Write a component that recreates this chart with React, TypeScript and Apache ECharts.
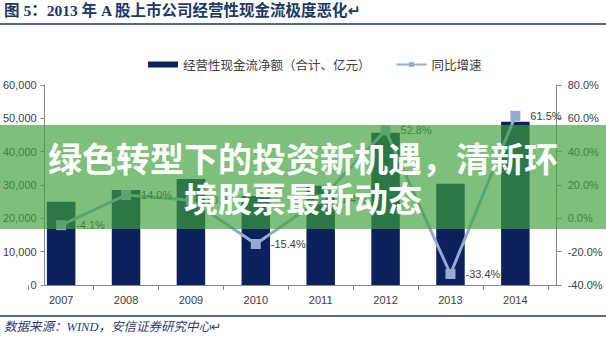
import React, { useEffect, useRef } from "react";
import * as echarts from "echarts";

const titleText = "图 5：2013 年 A 股上市公司经营性现金流极度恶化↵";
const sourceText = "数据来源：WIND，安信证券研究中心↵";
const overlayText = "绿色转型下的投资新机遇，清新环境股票最新动态";

const years = ["2007", "2008", "2009", "2010", "2011", "2012", "2013", "2014"];
const cashFlow = [25000, 28500, 31800, 26700, 29800, 45700, 30400, 49000];
const growth = [-4.1, 14.0, 10.9, -15.4, 11.4, 52.8, -33.4, 61.5];

const barName = "经营性现金流净额（合计、亿元）";
const lineName = "同比增速";

const leftMin = 0;
const leftMax = 60000;
const leftStep = 10000;
const rightMin = -40;
const rightMax = 80;
const rightStep = 20;

const NAVY = "#0C215C";
const LINE = "#95A9D3";
const AXIS = "#868686";
const LABEL = "#404040";
const SANS = "'Liberation Sans', Arial, sans-serif";
const CJK = "'Noto Sans CJK SC', 'DejaVu Sans', sans-serif";
const SERIF = "'Liberation Serif', 'Noto Sans CJK SC', 'DejaVu Sans', serif";

export default function App() {
  const ref = useRef<HTMLDivElement>(null);

  useEffect(() => {
    if (!ref.current) return;
    const chart = echarts.init(ref.current, undefined, { renderer: "svg" });

    const axisGrid = { left: 43.3, right: 49.3, top: 85, bottom: 69 };
    const dataGrid = { left: 28.7, right: 58.2, top: 85, bottom: 69 };

    const option: any = {
      animation: false,
      backgroundColor: "#ffffff",
      grid: [axisGrid, dataGrid],
      legend: {
        left: 143,
        top: 52,
        itemWidth: 30,
        itemHeight: 6,
        itemGap: 25,
        textStyle: { fontFamily: CJK, fontSize: 12.5, color: LABEL, lineHeight: 15 },
        data: [{ name: barName, icon: "rect" }, { name: lineName }],
      },
      xAxis: [
        {
          gridIndex: 0,
          type: "category",
          data: years,
          axisLine: { show: true, lineStyle: { color: AXIS, width: 1 } },
          axisTick: { show: false },
          axisLabel: { show: false },
          splitLine: { show: false },
        },
        {
          gridIndex: 1,
          type: "category",
          data: years,
          axisLine: { show: false },
          axisTick: { show: true, length: 5, lineStyle: { color: AXIS } },
          axisLabel: { margin: 9, fontFamily: SANS, fontSize: 11, color: LABEL },
          splitLine: { show: false },
        },
      ],
      yAxis: [
        {
          gridIndex: 0,
          type: "value",
          position: "left",
          min: leftMin,
          max: leftMax,
          interval: leftStep,
          axisLine: { show: true, lineStyle: { color: AXIS } },
          axisTick: { show: true, length: 4, lineStyle: { color: AXIS } },
          axisLabel: {
            margin: 8,
            fontFamily: SANS,
            fontSize: 11,
            color: LABEL,
            formatter: (v: number) => v.toLocaleString("en-US"),
          },
          splitLine: { show: false },
        },
        {
          gridIndex: 0,
          type: "value",
          position: "right",
          min: rightMin,
          max: rightMax,
          interval: rightStep,
          axisLine: { show: true, lineStyle: { color: AXIS } },
          axisTick: { show: true, length: 5, lineStyle: { color: AXIS } },
          axisLabel: {
            margin: 11,
            fontFamily: SANS,
            fontSize: 11,
            color: LABEL,
            formatter: (v: number) => v.toFixed(1) + "%",
          },
          splitLine: { show: false },
        },
        {
          gridIndex: 1,
          type: "value",
          min: leftMin,
          max: leftMax,
          show: false,
          splitLine: { show: false },
        },
        {
          gridIndex: 1,
          type: "value",
          min: rightMin,
          max: rightMax,
          show: false,
          splitLine: { show: false },
        },
      ],
      series: [
        {
          name: barName,
          type: "bar",
          xAxisIndex: 1,
          yAxisIndex: 2,
          barWidth: 28.5,
          itemStyle: { color: NAVY },
          data: cashFlow,
          z: 2,
        },
        {
          name: lineName,
          type: "line",
          xAxisIndex: 1,
          yAxisIndex: 3,
          symbol: "rect",
          symbolSize: 10,
          lineStyle: { color: LINE, width: 3 },
          itemStyle: { color: LINE },
          label: {
            show: true,
            position: "right",
            distance: 10,
            fontFamily: SANS,
            fontSize: 11,
            color: LABEL,
            formatter: (p: any) => Number(p.value).toFixed(1) + "%",
          },
          data: growth,
          z: 3,
        },
      ],
      graphic: [
        {
          type: "text",
          left: 4,
          top: 3,
          z: 50,
          style: {
            text: titleText,
            fontFamily: SERIF,
            fontWeight: "bold",
            fontSize: 15.5,
            fill: "#203864",
          },
        },
        {
          type: "line",
          z: 50,
          shape: { x1: 0, y1: 24, x2: 606, y2: 24 },
          style: { stroke: "#1F3A5F", lineWidth: 1.5 },
        },
        {
          type: "line",
          z: 50,
          shape: { x1: 0, y1: 316, x2: 606, y2: 316 },
          style: { stroke: "#1F3A5F", lineWidth: 1.5 },
        },
        {
          type: "text",
          left: 4,
          top: 321,
          z: 50,
          style: {
            text: sourceText,
            fontFamily: SERIF,
            fontStyle: "italic",
            fontSize: 12.5,
            fill: "#2B3A67",
          },
        },
        {
          type: "rect",
          z: 100,
          shape: { x: 0, y: 125, width: 606, height: 104 },
          style: { fill: "rgba(62,161,58,0.67)" },
        },
        {
          type: "text",
          z: 101,
          x: 303,
          y: 137,
          style: {
            text: overlayText,
            width: 530,
            overflow: "break",
            align: "center",
            verticalAlign: "top",
            fontFamily: CJK,
            fontWeight: "bold",
            fontSize: 34,
            lineHeight: 40,
            fill: "#ffffff",
          },
        },
      ],
    };

    chart.setOption(option);
    return () => chart.dispose();
  }, []);

  return (
    <div
      ref={ref}
      style={{ position: "absolute", left: 0, top: 0, width: 606, height: 354, background: "#fff" }}
    />
  );
}
